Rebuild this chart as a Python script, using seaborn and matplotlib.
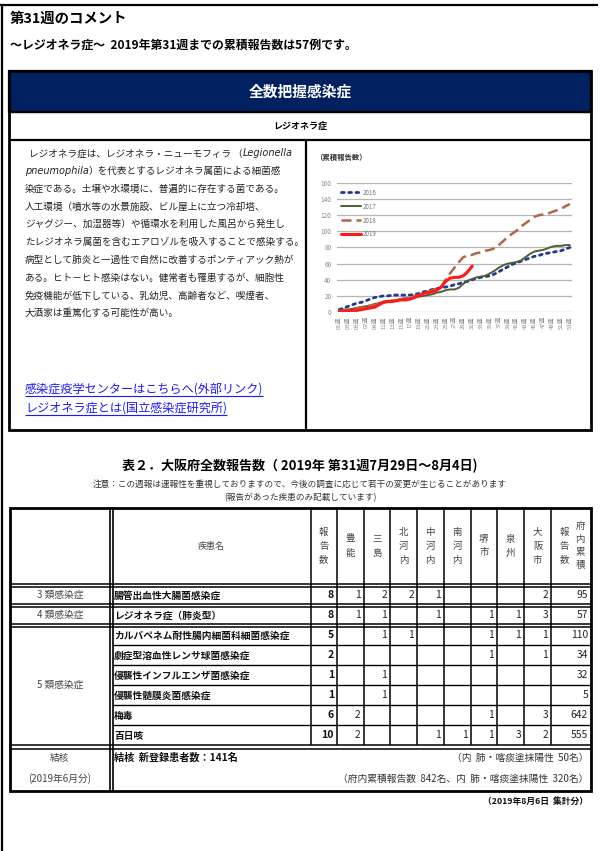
import numpy as np
import pandas as pd
import matplotlib
matplotlib.use('Agg')
import matplotlib.pyplot as plt
import seaborn as sns
from matplotlib.patches import Rectangle

# --- DATA: cumulative legionella reports per week ---
weeks = list(range(1, 54))
cum_2016 = [3, 5, 7, 9, 11, 12, 14, 16, 18, 19, 20, 20, 21, 21, 21, 21, 21, 22, 23, 25,
            26, 28, 29, 30, 31, 32, 34, 35, 37, 38, 40, 42, 43, 44, 45, 47, 50, 53, 56, 59,
            61, 63, 65, 67, 69, 70, 72, 73, 74, 75, 76, 78, 80]
cum_2017 = [2, 3, 3, 4, 5, 6, 7, 8, 10, 11, 13, 14, 14, 15, 16, 17, 17, 18, 19, 20,
            21, 22, 24, 25, 27, 28, 28, 30, 35, 39, 41, 43, 44, 45, 48, 51, 55, 58, 60, 61,
            62, 64, 68, 72, 75, 76, 77, 79, 81, 82, 82, 83, 83]
cum_2018 = [1, 2, 3, 4, 5, 6, 7, 8, 9, 10, 12, 13, 14, 15, 16, 17, 18, 20, 21, 23,
            25, 27, 29, 31, 40, 48, 55, 62, 68, 70, 71, 73, 74, 76, 77, 79, 83, 88, 93, 97,
            101, 106, 110, 114, 118, 120, 121, 122, 124, 126, 128, 131, 134]
cum_2019 = [1, 1, 1, 2, 2, 3, 4, 5, 6, 9, 12, 13, 13, 14, 15, 15, 16, 18, 21, 23,
            24, 25, 27, 31, 38, 42, 43, 43, 45, 50, 57]
series_years = ['2016', '2017', '2018', '2019']
week_ticks = list(range(1, 54, 2))
week_tick_labels = ['%02d週' % w for w in week_ticks]
y_ticks = [0, 20, 40, 60, 80, 100, 120, 140, 160]

# --- DATA: table 2 ---
groups = ['3 類感染症', '4 類感染症', '5 類感染症']
group_sizes = [1, 1, 6]
diseases = ['腸管出血性大腸菌感染症', 'レジオネラ症（肺炎型）', 'カルバペネム耐性腸内細菌科細菌感染症',
            '劇症型溶血性レンサ球菌感染症', '侵襲性インフルエンザ菌感染症', '侵襲性髄膜炎菌感染症',
            '梅毒', '百日咳']
region_headers = ['報告数', '豊能', '三島', '北河内', '中河内', '南河内', '堺市', '泉州', '大阪市']
report_total = [8, 8, 5, 2, 1, 1, 6, 10]
toyono = [1, 1, None, None, None, None, 2, 2]
mishima = [2, 1, 1, None, 1, 1, None, None]
kitakawachi = [2, None, 1, None, None, None, None, None]
nakakawachi = [1, 1, None, None, None, None, None, 1]
minamikawachi = [None, None, None, None, None, None, None, 1]
sakai = [None, 1, 1, 1, None, None, 1, 1]
senshu = [None, 1, 1, None, None, None, None, 3]
osaka_city = [2, 3, 1, 1, None, None, 3, 2]
cumulative = [95, 57, 110, 34, 32, 5, 642, 555]

# --- STYLE ---
sns.set_style('white')
plt.rcParams['font.family'] = ['Noto Sans CJK JP', 'DejaVu Sans']
NAVY = '#002060'
LINK = '#1a1aff'
TXT = '#222222'

W, H = 601, 851
fig = plt.figure(figsize=(W / 100, H / 100), dpi=100)
page = fig.add_axes([0, 0, 1, 1])
page.set_xlim(0, W)
page.set_ylim(H, 0)
page.axis('off')
renderer = fig.canvas.get_renderer()


def put(x, y, s, size=7, **kw):
    kw.setdefault('va', 'center')
    kw.setdefault('color', TXT)
    return page.text(x, y, s, fontsize=size, **kw)


def width_of(t):
    return t.get_window_extent(renderer=renderer).width


def hline(y, x0, x1, lw=1.0, color='black'):
    page.plot([x0, x1], [y, y], color=color, lw=lw, solid_capstyle='butt')


def vline(x, y0, y1, lw=1.0, color='black'):
    page.plot([x, x], [y0, y1], color=color, lw=lw, solid_capstyle='butt')


# --- page frame ---
hline(5, 0, 598, lw=1.6)
vline(1.5, 5, H, lw=1.6)

put(10, 19, '第31週のコメント', size=10.4, weight='bold', color='black')
put(10, 45, '～レジオネラ症～  2019年第31週までの累積報告数は57例です。', size=8.6,
    weight='bold', color='black')

# --- comment box ---
page.add_patch(Rectangle((9, 71), 582, 41, facecolor=NAVY, edgecolor='black', lw=1.6))
page.add_patch(Rectangle((9, 71), 582, 359, facecolor='none', edgecolor='black', lw=2.0))
hline(112, 9, 591, lw=1.6)
hline(140, 9, 591, lw=1.6)
vline(306, 140, 430, lw=1.6)
put(300, 92, '全数把握感染症', size=10.6, weight='bold', color='white', ha='center')
put(300, 126, 'レジオネラ症', size=6.5, weight='bold', color='black', ha='center')

line_y0, line_dy = 153.5, 17.75
body_size = 6.9
t = put(29, line_y0, 'レジオネラ症は、レジオネラ・ニューモフィラ （', size=body_size)
put(29 + width_of(t), line_y0, 'Legionella', size=7, style='italic', family=['DejaVu Sans'])
t = put(25, line_y0 + line_dy, 'pneumophila', size=7, style='italic', family=['DejaVu Sans'])
put(25 + width_of(t), line_y0 + line_dy, '）を代表とするレジオネラ属菌による細菌感', size=body_size)
rest_lines = [
    '染症である。土壌や水環境に、普遍的に存在する菌である。',
    '人工環境（噴水等の水景施設、ビル屋上に立つ冷却塔、',
    'ジャグジー、加湿器等）や循環水を利用した風呂から発生し',
    'たレジオネラ属菌を含むエアロゾルを吸入することで感染する。',
    '病型として肺炎と一過性で自然に改善するポンティアック熱が',
    'ある。ヒト－ヒト感染はない。健常者も罹患するが、細胞性',
    '免疫機能が低下している、乳幼児、高齢者など、喫煙者、',
    '大酒家は重篤化する可能性が高い。',
]
for i, s in enumerate(rest_lines):
    put(25, line_y0 + line_dy * (i + 2), s, size=body_size)

for y, s in [(389, '感染症疫学センターはこちらへ(外部リンク)'), (408, 'レジオネラ症とは(国立感染症研究所)')]:
    t = put(25, y, s, size=8.7, color=LINK)
    hline(y + 7, 25, 25 + width_of(t), lw=0.8, color=LINK)

# --- chart ---
put(315, 157, '（累積報告数）', size=5.3, weight='bold', color='#333333')
x0, x1, ytop, ybot = 337, 572, 183, 312
ax = fig.add_axes([x0 / W, 1 - ybot / H, (x1 - x0) / W, (ybot - ytop) / H])
styles = {
    '2016': dict(color='#1f3a8f', linestyle=(0, (1, 1.6)), linewidth=2.0, dash_capstyle='round'),
    '2017': dict(color='#4f5e33', linestyle='-', linewidth=1.4),
    '2018': dict(color='#b5634a', linestyle=(0, (4, 2)), linewidth=1.8),
    '2019': dict(color='#ff1a1a', linestyle='-', linewidth=2.2),
}
for year, values in zip(series_years, [cum_2016, cum_2017, cum_2018, cum_2019]):
    sns.lineplot(x=weeks[:len(values)], y=values, ax=ax, label=year, **styles[year])
ax.set_xlim(0.5, 53.5)
ax.set_ylim(0, 160)
ax.set_yticks(y_ticks)
ax.set_xticks(week_ticks)
ax.set_xticklabels(week_tick_labels, rotation=90, fontsize=4.2, color='#8a8a8a')
ax.tick_params(axis='y', labelsize=4.6, labelcolor='#8a8a8a', length=0, pad=4)
ax.tick_params(axis='x', length=0, pad=3)
ax.yaxis.grid(True, color='#b5b5b5', lw=0.9)
ax.xaxis.grid(False)
for sp in ax.spines.values():
    sp.set_visible(False)
ax.set_xlabel('')
ax.set_ylabel('')
ax.patch.set_alpha(0)
ax.legend(loc='upper left', bbox_to_anchor=(0.0, 0.985), frameon=False, fontsize=4.5,
          handlelength=3.3, labelspacing=0.95, labelcolor='#777777', handletextpad=0.2,
          borderaxespad=0.2)

# --- table 2 ---
put(300, 466, '表２．大阪府全数報告数（ 2019年 第31週7月29日～8月4日)', size=9.4,
    weight='bold', color='black', ha='center')
put(300, 484, '注意：この週報は速報性を重視しておりますので、今後の調査に応じて若干の変更が生じることがあります',
    size=6.2, ha='center', color='#333333')
put(300, 498, '(報告があった疾患のみ記載しています)', size=6.2, ha='center', color='#333333')

tx0, tx1, ty0, ty1 = 10, 591, 508, 791
col_edges = [310.5, 337, 363.5, 390, 417, 443.5, 470.5, 497, 524, 551]
head_bot = 585
row_tops = [585, 605, 625, 645, 665, 685, 705, 725]
rows_bot = 745

page.add_patch(Rectangle((tx0, ty0), tx1 - tx0, ty1 - ty0, facecolor='none', edgecolor='black', lw=2.0))
vline(109.5, ty0, ty1, lw=1.2)
vline(112.5, ty0, ty1, lw=1.2)
for x in col_edges:
    vline(x, ty0, rows_bot, lw=1.1)
for y in [head_bot - 1.5, head_bot + 1.5, 604, 606.5, 624, 626.5, rows_bot, rows_bot + 3.5]:
    hline(y, tx0, tx1, lw=1.1)
for y in row_tops[3:]:
    hline(y, 112.5, tx1, lw=1.0)

# header
put(211, 546, '疾患名', size=6.5, ha='center', color='#444444')
centers = [(a + b) / 2 for a, b in zip(col_edges[:-1], col_edges[1:])]
for cx, name in zip(centers, region_headers):
    n = len(name)
    for k, ch in enumerate(name):
        put(cx, 546 + (k - (n - 1) / 2) * 14, ch, size=6.8, ha='center', color='#444444')
for k, ch in enumerate('報告数'):
    put(564, 546 + (k - 1) * 14, ch, size=6.8, ha='center', color='#444444')
for k, ch in enumerate('府内累積'):
    put(580, 546 + (k - 1.5) * 13, ch, size=6.8, ha='center', color='#444444')

# group labels
start = 0
for g, n in zip(groups, group_sizes):
    top = row_tops[start]
    bot = row_tops[start + n] if start + n < len(row_tops) else rows_bot
    put(60, (top + bot) / 2, g, size=7, ha='center', color='#444444')
    start += n

region_cols = [toyono, mishima, kitakawachi, nakakawachi, minamikawachi, sakai, senshu, osaka_city]
for i, name in enumerate(diseases):
    top = row_tops[i]
    bot = row_tops[i + 1] if i + 1 < len(row_tops) else rows_bot
    cy = (top + bot) / 2 + 0.5
    put(114, cy, name, size=7, weight='bold', color='#111111')
    put(col_edges[1] - 3, cy, str(report_total[i]), size=7.6, weight='bold', ha='right', color='#111111')
    for j, col in enumerate(region_cols):
        if col[i] is not None:
            put(col_edges[j + 2] - 3, cy, str(col[i]), size=7.4, ha='right', color='#222222')
    put(tx1 - 3, cy, str(cumulative[i]), size=7.4, ha='right', color='#222222')

# tuberculosis block
put(60, 758, '結核', size=7, ha='center', color='#444444')
put(60, 779, '(2019年6月分)', size=7, ha='center', color='#444444')
put(114, 758, '結核  新登録患者数：141名', size=7.3, weight='bold', color='#111111')
put(588, 758, '（内  肺・喀痰塗抹陽性  50名）', size=7, ha='right', color='#333333')
put(588, 779, '（府内累積報告数  842名、内  肺・喀痰塗抹陽性  320名）', size=7, ha='right', color='#333333')

put(588, 801, '（2019年8月6日  集計分）', size=6.3, weight='bold', ha='right', color='#111111')

fig.savefig('out.png', dpi=100)
